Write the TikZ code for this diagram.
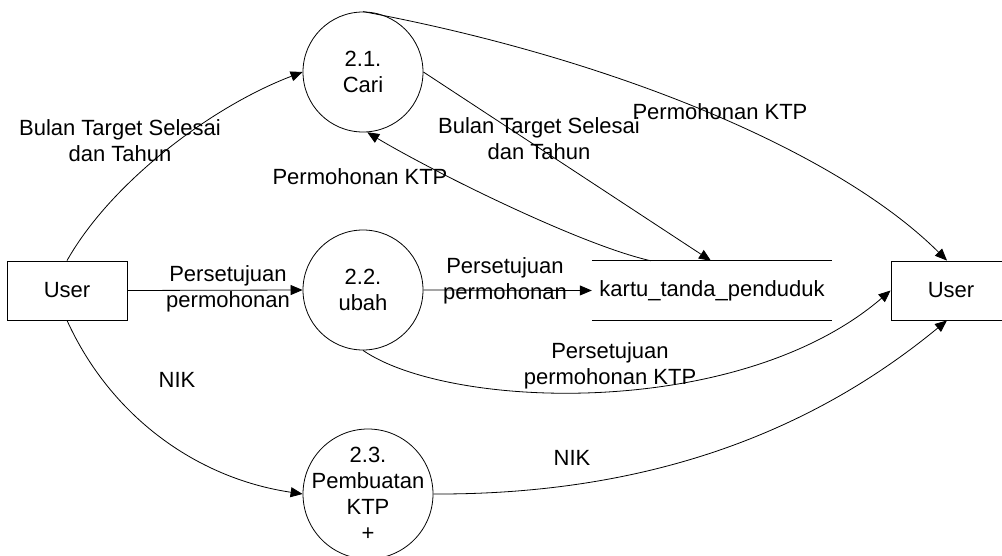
\documentclass[tikz,border=0pt]{standalone}
\usepackage{fontspec}
\setmainfont{Liberation Sans}
\usetikzlibrary{arrows.meta}
\begin{document}
\begin{tikzpicture}[x=1pt,y=-1pt,
  every node/.style={font=\fontsize{22}{26}\selectfont, inner sep=0pt, align=center},
  proc/.style={draw, circle, line width=0.8pt},
  ent/.style={draw, rectangle, minimum width=120pt, minimum height=59pt, line width=0.8pt},
  flow/.style={line width=0.8pt, -{Triangle[length=12pt,width=10pt]}},
  store/.style={minimum width=240pt, minimum height=59pt}]
\useasboundingbox (0,0) rectangle (1002,556);
% entities
\node[ent] (userL) at (67,290.5) {User};
\node[ent] (userR) at (951,290.5) {User};
% processes
\node[proc, minimum size=120pt, label={center:{2.1.\\Cari}}] (p1) at (363,72) {};
\node[proc, minimum size=120pt, label={center:{2.2.\\ubah}}] (p2) at (363,290) {};
\node[proc, minimum size=130pt, label={center:{2.3.\\Pembuatan\\KTP\\+}}] (p3) at (368,494) {};
% data store
\node[store] (ds) at (712,290.5) {kartu\_tanda\_penduduk};
\draw[line width=0.8pt] (ds.north west) -- (ds.north east) (ds.south west) -- (ds.south east);
% flows
\draw[flow] (userL.north) .. controls (112,181) and (213,106) .. (p1.west);
\node (l1) at (120,141) {Bulan Target Selesai\\dan Tahun};
\draw[flow] (p1.north) .. controls (612,58) and (837,151) .. ([xshift=-4pt]userR.north);
\node (l2) at (720,112) {Permohonan KTP};
\draw[flow] (p1.east) -- ([xshift=-1pt]ds.north);
\node (l3) at (539,138.5) {Bulan Target Selesai\\dan Tahun};
\draw[flow] ([xshift=-61pt]ds.north) .. controls (580,245) and (430,170) .. (p1.-86);
\node (l4) at (360,177) {Permohonan KTP};
\draw[flow] (userL.east) -- (p2.west);
\node (l5) at (228,289) {Persetujuan\\permohonan};
\draw[flow] (p2.east) -- (ds.west);
\node (l6) at (505,280.5) {Persetujuan\\permohonan};
\draw[flow] (p2.south) .. controls (450,410) and (740,420) .. (userR.west);
\node (l7) at (610,366) {Persetujuan\\permohonan KTP};
\draw[flow] (userL.south) .. controls (110,415) and (195,478) .. (p3.west);
\node (l8) at (177,380) {NIK};
\draw[flow] (p3.east) .. controls (660,495) and (820,425) .. ([xshift=-4pt]userR.south);
\node (l9) at (572,458) {NIK};
\end{tikzpicture}
\end{document}
